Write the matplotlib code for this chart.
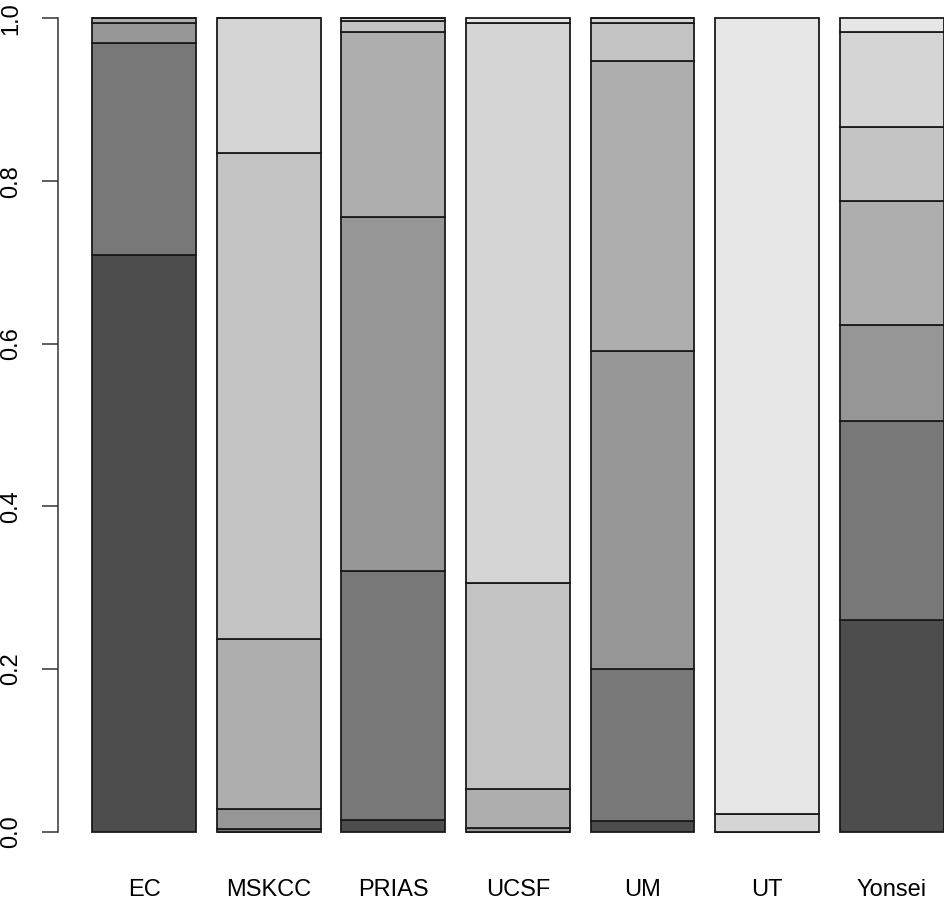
import numpy as np
import matplotlib
matplotlib.use("Agg")
import matplotlib.pyplot as plt

sites = ["EC", "MSKCC", "PRIAS", "UCSF", "UM", "UT", "Yonsei"]
g1 = [0.709, 0.000, 0.014, 0.000, 0.013, 0.000, 0.260]
g2 = [0.261, 0.003, 0.307, 0.000, 0.187, 0.000, 0.245]
g3 = [0.025, 0.025, 0.435, 0.004, 0.391, 0.000, 0.118]
g4 = [0.005, 0.209, 0.228, 0.048, 0.357, 0.000, 0.153]
g5 = [0.000, 0.597, 0.013, 0.254, 0.046, 0.000, 0.090]
g6 = [0.000, 0.166, 0.003, 0.688, 0.006, 0.022, 0.118]
g7 = [0.000, 0.000, 0.000, 0.006, 0.000, 0.978, 0.016]
groups = [g1, g2, g3, g4, g5, g6, g7]
yticks = [0.0, 0.2, 0.4, 0.6, 0.8, 1.0]
ytick_labels = ["0.0", "0.2", "0.4", "0.6", "0.8", "1.0"]

# R-style gray.colors(7)
n = len(groups)
vals = np.linspace(0.3 ** 2.2, 0.9 ** 2.2, n) ** (1 / 2.2)
colors = [(v, v, v) for v in vals]

plt.rcParams['font.family'] = ['Liberation Sans', 'DejaVu Sans']
W, H = 945, 902
fig = plt.figure(figsize=(W / 100, H / 100), dpi=100)

# axes geometry in pixels
x_axis_px = 58.3
bottom_px = 864.2
ax = fig.add_axes([x_axis_px / W, (H - bottom_px) / H, 1 - x_axis_px / W, bottom_px / H])
ax.set_xlim(-0.128, -0.128 + (W - x_axis_px) / 103.8)
ax.set_ylim(-0.04, 1.0 + 18.5 / 813.2)

x = 0.7 + 1.2 * np.arange(len(sites))
bottom = np.zeros(len(sites))
for g, c in zip(groups, colors):
    g = np.array(g)
    ax.bar(x, g, width=1.0, bottom=bottom, color=c, edgecolor="#1a1a1a",
           linewidth=1.3, clip_on=False)
    bottom += g

for s in ["top", "right", "bottom"]:
    ax.spines[s].set_visible(False)
ax.spines["left"].set_bounds(0, 1)
ax.spines["left"].set_linewidth(1.1)
ax.spines["left"].set_color("#333333")

ax.set_yticks(yticks)
ax.set_yticklabels(ytick_labels, rotation=90, va="center", ha="right", fontsize=17)
ax.tick_params(axis="y", length=11.2, width=1.1, color="#333333", pad=15)

ax.set_xticks(x)
ax.set_xticklabels(sites, fontsize=17)
ax.tick_params(axis="x", length=0, pad=11)

fig.savefig("out.png", dpi=100)
